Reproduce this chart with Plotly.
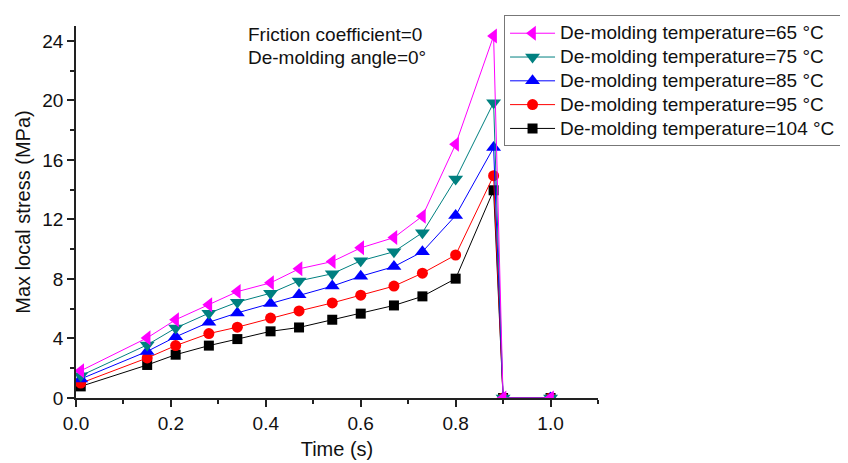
import plotly.graph_objects as go

time_s = [0.01, 0.15, 0.21, 0.28, 0.34, 0.41, 0.47, 0.54, 0.60, 0.67, 0.73, 0.80, 0.88, 0.90, 1.00]

stress_65 = [1.83, 4.04, 5.26, 6.26, 7.15, 7.74, 8.68, 9.17, 10.09, 10.78, 12.22, 17.05, 24.33, 0, 0]
stress_75 = [1.50, 3.57, 4.70, 5.70, 6.44, 7.04, 7.87, 8.35, 9.22, 9.83, 11.11, 14.72, 19.85, 0, 0]
stress_85 = [1.28, 3.13, 4.11, 5.09, 5.72, 6.35, 6.94, 7.52, 8.18, 8.83, 9.83, 12.26, 16.83, 0, 0]
stress_95 = [1.00, 2.69, 3.52, 4.33, 4.76, 5.37, 5.85, 6.39, 6.91, 7.52, 8.39, 9.61, 14.94, 0, 0]
stress_104 = [0.78, 2.22, 2.91, 3.52, 3.96, 4.48, 4.74, 5.26, 5.67, 6.22, 6.83, 8.02, 13.96, 0, 0]

series_names = [
    "De-molding temperature=104 °C",
    "De-molding temperature=95 °C",
    "De-molding temperature=85 °C",
    "De-molding temperature=75 °C",
    "De-molding temperature=65 °C",
]
series_values = [stress_104, stress_95, stress_85, stress_75, stress_65]
colors = ["#000000", "#FF0000", "#0000FF", "#008080", "#FF00FF"]
symbols = ["square", "circle", "triangle-up", "triangle-down", "triangle-left"]
sizes = [10, 11, 13, 13, 13]

FONT = "Liberation Sans, Arial, sans-serif"

fig = go.Figure()
for name, vals, c, s, sz in zip(series_names, series_values, colors, symbols, sizes):
    fig.add_trace(go.Scatter(
        x=time_s, y=vals, mode="lines+markers",
        name="<span style='font-size:19px'>" + name + "</span>",
        line=dict(color=c, width=1),
        marker=dict(color=c, symbol=s, size=sz, line=dict(width=0)),
    ))

fig.add_annotation(x=0.358, y=24.45, xref="x", yref="y", text="Friction coefficient=0",
                   showarrow=False, xanchor="left", yanchor="middle",
                   font=dict(family=FONT, size=19, color="#111"))
fig.add_annotation(x=0.358, y=22.9, xref="x", yref="y", text="De-molding angle=0°",
                   showarrow=False, xanchor="left", yanchor="middle",
                   font=dict(family=FONT, size=19, color="#111"))

axis_common = dict(
    showgrid=False, zeroline=False, showline=True, linecolor="#222", linewidth=1.5,
    ticks="outside", ticklen=7, tickwidth=1.5, tickcolor="#222",
    tickfont=dict(family=FONT, size=19, color="#111"),
    title_font=dict(family=FONT, size=20, color="#111"),
    automargin=False,
)

fig.update_xaxes(range=[0, 1.1], dtick=0.2, tick0=0, tickformat=".1f",
                 minor=dict(dtick=0.1, ticks="outside", ticklen=4, tickwidth=1.5, tickcolor="#222"),
                 title_text="Time (s)", title_standoff=9, **axis_common)
fig.update_yaxes(range=[0, 25], dtick=4, tick0=0,
                 minor=dict(dtick=2, ticks="outside", ticklen=4, tickwidth=1.5, tickcolor="#222"),
                 title_text="Max local stress (MPa)", title_standoff=6, **axis_common)

# the page body has an 8px margin, so the figure is sized and offset to compensate
fig.update_layout(
    width=840, height=455,
    margin=dict(l=68, r=249, t=7, b=65),
    plot_bgcolor="white", paper_bgcolor="white",
    showlegend=True,
    legend=dict(x=0.82, y=1.0287, xanchor="left", yanchor="top",
                traceorder="reversed", bordercolor="#777", borderwidth=1,
                bgcolor="white", font=dict(family=FONT, size=16, color="#111"),
                tracegroupgap=0, itemwidth=45),
)

fig.write_html("out.html")
